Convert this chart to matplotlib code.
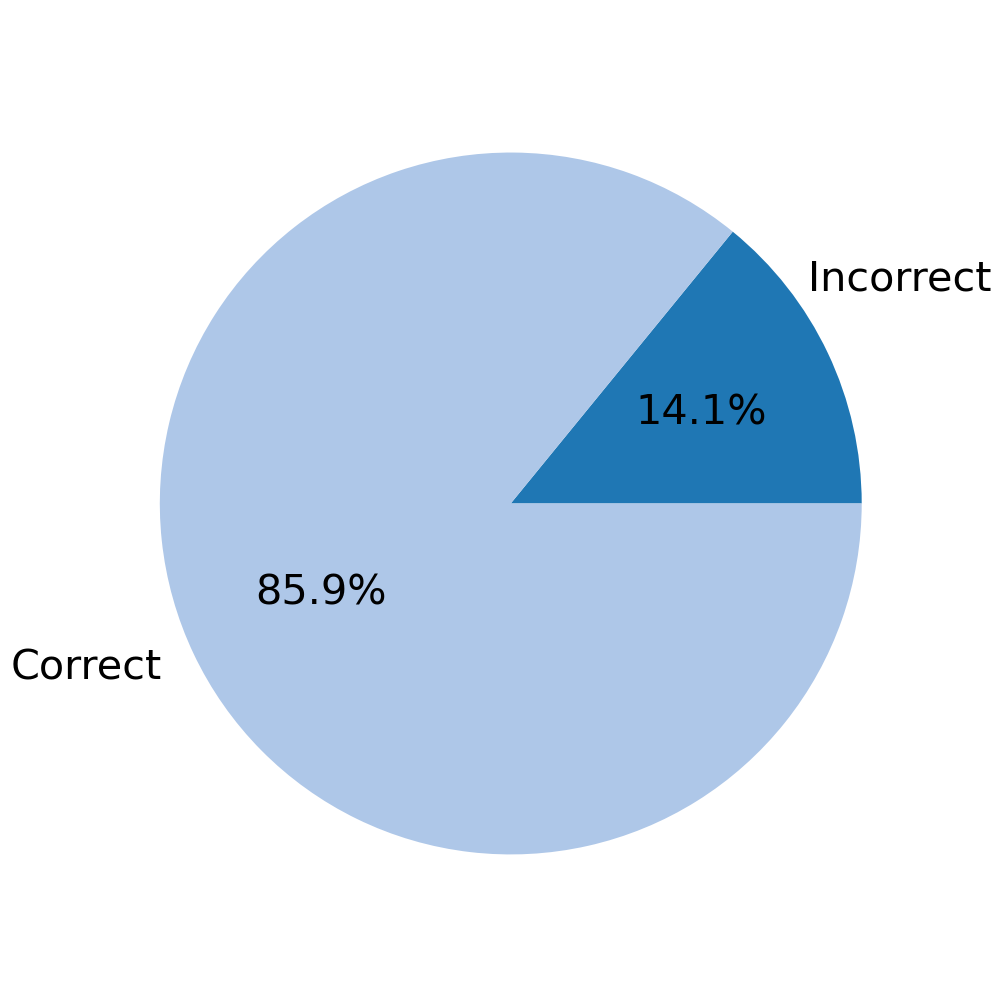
import matplotlib
matplotlib.use('Agg')
import matplotlib.pyplot as plt

# Data
labels = ['Incorrect', 'Correct']
shares = [14.1, 85.9]
colors = ['#1f77b4', '#aec7e8']

fig = plt.figure(figsize=(9.97, 9.97), dpi=100)
ax = fig.add_axes([0.0723, 0.055, 0.88, 0.88])

wedges, texts, autotexts = ax.pie(shares, labels=labels, colors=colors,
                                  autopct='%1.1f%%', startangle=0,
                                  textprops={'fontsize': 29.8})
# Incorrect label sits a bit higher than the default position
texts[0].set_position((0.846, 0.638))
ax.set_xlim(-1.25, 1.25)
ax.set_ylim(-1.25, 1.25)
ax.set_aspect('equal')

fig.savefig('out.png', dpi=100)
